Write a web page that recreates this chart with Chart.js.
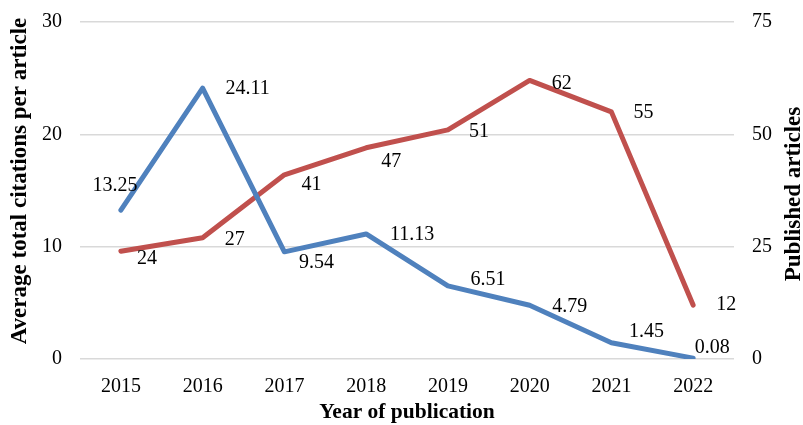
<!DOCTYPE html>
<html>
<head>
<meta charset="utf-8">
<script src="https://cdn.jsdelivr.net/npm/chart.js@4"></script>
<style>
  html, body { margin: 0; padding: 0; background: #fff; }
  #wrap { width: 803px; height: 425px; }
</style>
</head>
<body>
<div id="wrap"><canvas id="chart" width="803" height="425"></canvas></div>
<script>
// data
const years = ['2015', '2016', '2017', '2018', '2019', '2020', '2021', '2022'];
const avgCitations = [13.25, 24.11, 9.54, 11.13, 6.51, 4.79, 1.45, 0.08];
const publishedArticles = [24, 27, 41, 47, 51, 62, 55, 12];

const xTitle = 'Year of publication';
const leftTitle = 'Average total citations per article';
const rightTitle = 'Published articles';

// where each value label sits relative to its point (px)
const citationLabelShift = [[-6, -24], [45, 1], [32, 11], [46, 1], [40, -6], [40, 2], [35, -11], [19, -10]];
const articleLabelShift = [[26, 8], [32, 2], [27, 10], [25, 14], [31, 2], [32, 3], [32, 1], [33, 0]];

const serif = "'Liberation Serif', 'Times New Roman', serif";

// numbers next to each point + the three axis titles
const chartText = {
    id: 'chartText',
    afterDatasetsDraw(chart) {
        const ctx = chart.ctx;
        const area = chart.chartArea;
        ctx.save();
        ctx.font = "20px " + serif;
        ctx.fillStyle = '#000';
        ctx.textAlign = 'center';
        ctx.textBaseline = 'middle';
        chart.data.datasets.forEach((ds, di) => {
            const meta = chart.getDatasetMeta(di);
            meta.data.forEach((pt, i) => {
                const s = ds.labelShift[i];
                ctx.fillText(String(ds.data[i]), pt.x + s[0], pt.y + s[1]);
            });
        });

        ctx.font = "bold 21.5px " + serif;
        ctx.fillText(xTitle, (area.left + area.right) / 2, 412);

        ctx.font = "bold 23px " + serif;
        ctx.save();
        ctx.translate(20, 181);
        ctx.rotate(-Math.PI / 2);
        ctx.fillText(leftTitle, 0, 0);
        ctx.restore();

        ctx.save();
        ctx.translate(794, 194);
        ctx.rotate(-Math.PI / 2);
        ctx.fillText(rightTitle, 0, 0);
        ctx.restore();

        ctx.restore();
    }
};

// fixed axis sizes so the plot area lands where the original one is
function fixY(width) {
    return s => { s.width = width; s.paddingTop = 0; s.paddingBottom = 0; };
}

const ctx = document.getElementById('chart').getContext('2d');
new Chart(ctx, {
    type: 'line',
    data: {
        labels: years,
        datasets: [{
            label: 'Average total citations per article',
            data: avgCitations,
            labelShift: citationLabelShift,
            yAxisID: 'y',
            borderColor: '#4F81BD',
            borderWidth: 5,
            borderCapStyle: 'round',
            borderJoinStyle: 'round',
            pointRadius: 0,
            tension: 0
        }, {
            label: 'Published articles',
            data: publishedArticles,
            labelShift: articleLabelShift,
            yAxisID: 'y1',
            borderColor: '#C0504D',
            borderWidth: 5,
            borderCapStyle: 'round',
            borderJoinStyle: 'round',
            pointRadius: 0,
            tension: 0
        }]
    },
    options: {
        responsive: false,
        animation: false,
        devicePixelRatio: 1,
        layout: { padding: { top: 22, right: 0, left: 0, bottom: 0 } },
        plugins: { legend: { display: false }, tooltip: { enabled: false } },
        scales: {
            x: {
                offset: true,
                grid: { display: false },
                border: { display: false },
                ticks: { color: '#000', font: { family: serif, size: 20 }, padding: 8 },
                afterFit(s) { s.height = 66; s.paddingLeft = 0; s.paddingRight = 0; }
            },
            y: {
                position: 'left',
                min: 0, max: 30,
                ticks: { stepSize: 10, color: '#000', font: { family: serif, size: 20 }, padding: 18 },
                grid: { color: '#d9d9d9', lineWidth: 1.5, drawTicks: false },
                border: { display: false },
                afterFit: fixY(80)
            },
            y1: {
                position: 'right',
                min: 0, max: 75,
                ticks: { stepSize: 25, color: '#000', font: { family: serif, size: 20 }, padding: 18 },
                grid: { display: false, drawTicks: false },
                border: { display: false },
                afterFit: fixY(69)
            }
        }
    },
    plugins: [chartText]
});
</script>
</body>
</html>
